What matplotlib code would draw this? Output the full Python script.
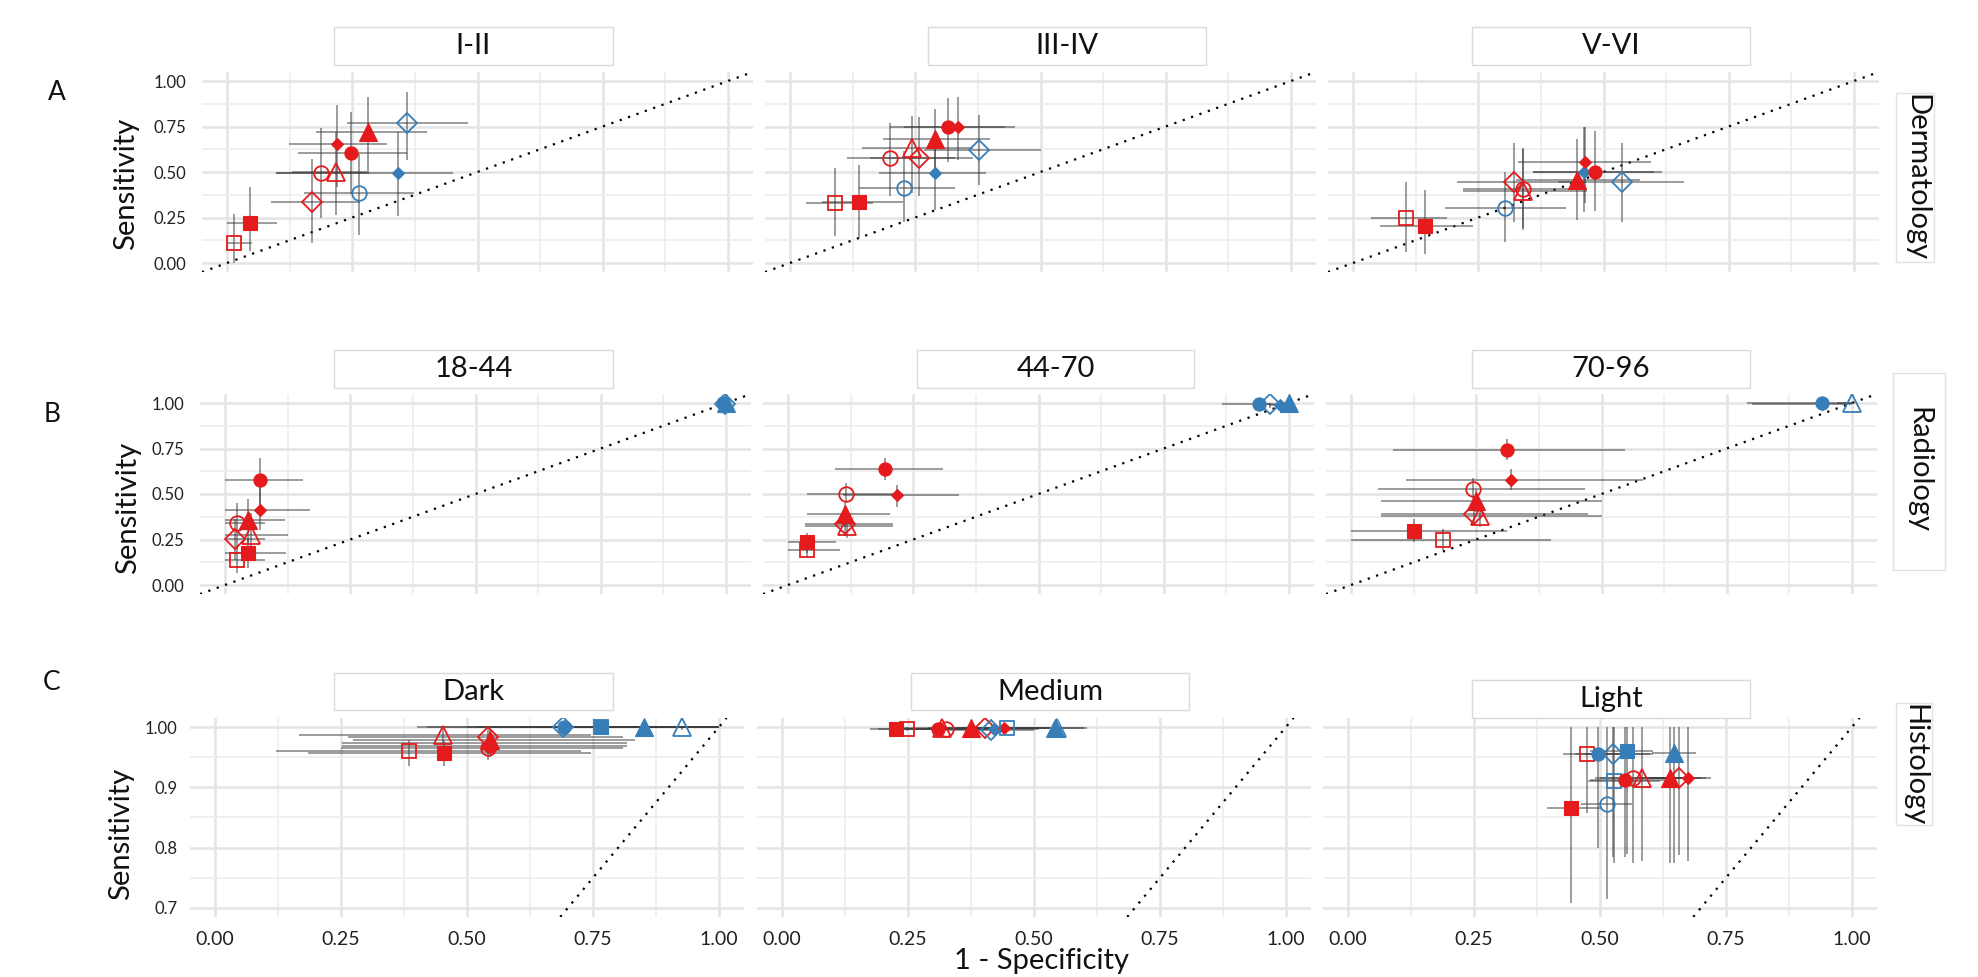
import matplotlib
matplotlib.use('Agg')
import matplotlib.pyplot as plt
from matplotlib.patches import Rectangle

W, H, DPI = 1978, 977, 100
RED, BLUE = '#E41A1C', '#377EB8'

# ---- data: (key, x, y, x_lo, x_hi, y_lo, y_hi); key = colour + shape + fill ----
derm_I_II = [
    ("rso", 0.013, 0.110, 0.000, 0.050, 0.000, 0.270),
    ("rsf", 0.046, 0.220, 0.000, 0.100, 0.064, 0.415),
    ("rdo", 0.170, 0.335, 0.087, 0.266, 0.110, 0.570),
    ("rco", 0.187, 0.494, 0.097, 0.280, 0.247, 0.740),
    ("rto", 0.217, 0.500, 0.130, 0.280, 0.265, 0.720),
    ("rdf", 0.219, 0.654, 0.124, 0.319, 0.420, 0.870),
    ("rcf", 0.247, 0.607, 0.142, 0.359, 0.380, 0.830),
    ("rtf", 0.281, 0.722, 0.177, 0.399, 0.490, 0.910),
    ("bco", 0.263, 0.384, 0.154, 0.374, 0.155, 0.600),
    ("bdf", 0.341, 0.497, 0.097, 0.452, 0.260, 0.720),
    ("bdo", 0.359, 0.771, 0.239, 0.482, 0.567, 0.940),
]
derm_III_IV = [
    ("rso", 0.090, 0.332, 0.031, 0.165, 0.150, 0.520),
    ("rsf", 0.138, 0.336, 0.064, 0.225, 0.135, 0.540),
    ("rco", 0.200, 0.578, 0.114, 0.330, 0.370, 0.770),
    ("rto", 0.244, 0.633, 0.143, 0.365, 0.387, 0.807),
    ("rdo", 0.257, 0.578, 0.160, 0.365, 0.370, 0.800),
    ("rtf", 0.289, 0.679, 0.186, 0.400, 0.500, 0.847),
    ("rcf", 0.316, 0.746, 0.200, 0.430, 0.555, 0.907),
    ("rdf", 0.336, 0.746, 0.228, 0.449, 0.565, 0.912),
    ("bco", 0.228, 0.410, 0.137, 0.330, 0.226, 0.615),
    ("bdf", 0.289, 0.496, 0.178, 0.392, 0.290, 0.715),
    ("bdo", 0.378, 0.620, 0.267, 0.500, 0.427, 0.815),
]
derm_V_VI = [
    ("rso", 0.106, 0.248, 0.035, 0.188, 0.060, 0.447),
    ("rsf", 0.143, 0.203, 0.054, 0.240, 0.047, 0.400),
    ("bco", 0.303, 0.300, 0.184, 0.425, 0.115, 0.500),
    ("rdo", 0.322, 0.447, 0.207, 0.466, 0.224, 0.662),
    ("rco", 0.340, 0.407, 0.220, 0.468, 0.190, 0.630),
    ("rto", 0.339, 0.398, 0.220, 0.468, 0.180, 0.626),
    ("rtf", 0.447, 0.456, 0.326, 0.573, 0.237, 0.680),
    ("bdf", 0.461, 0.498, 0.360, 0.600, 0.280, 0.745),
    ("rdf", 0.464, 0.553, 0.329, 0.595, 0.330, 0.748),
    ("rcf", 0.483, 0.498, 0.360, 0.617, 0.288, 0.726),
    ("bdo", 0.537, 0.447, 0.410, 0.660, 0.228, 0.662),
]
rad_18_44 = [
    ("rcf", 0.069, 0.577, 0.000, 0.155, 0.430, 0.696),
    ("rdf", 0.070, 0.413, 0.000, 0.169, 0.300, 0.540),
    ("rco", 0.023, 0.340, 0.000, 0.080, 0.200, 0.450),
    ("rtf", 0.045, 0.359, 0.000, 0.120, 0.230, 0.470),
    ("rto", 0.051, 0.277, 0.000, 0.125, 0.160, 0.395),
    ("rdo", 0.020, 0.253, 0.000, 0.080, 0.140, 0.360),
    ("rsf", 0.045, 0.177, 0.000, 0.122, 0.095, 0.260),
    ("rso", 0.023, 0.137, 0.000, 0.080, 0.067, 0.210),
    ("bcf", 0.995, 1.000, 0.985, 1.000, 0.990, 1.000),
    ("bdf", 0.996, 0.990, 0.985, 1.000, 0.980, 1.000),
    ("bdo", 0.998, 0.995, 0.990, 1.000, 0.985, 1.000),
    ("btf", 1.000, 0.998, 0.995, 1.000, 0.990, 1.000),
]
rad_44_70 = [
    ("rcf", 0.193, 0.636, 0.093, 0.309, 0.577, 0.696),
    ("rco", 0.116, 0.500, 0.037, 0.230, 0.450, 0.560),
    ("rdf", 0.217, 0.495, 0.110, 0.341, 0.430, 0.550),
    ("rtf", 0.114, 0.390, 0.037, 0.203, 0.320, 0.450),
    ("rdo", 0.114, 0.335, 0.034, 0.210, 0.270, 0.400),
    ("rto", 0.117, 0.322, 0.034, 0.210, 0.260, 0.385),
    ("rsf", 0.037, 0.235, 0.000, 0.095, 0.177, 0.287),
    ("rso", 0.038, 0.195, 0.000, 0.104, 0.150, 0.250),
    ("bcf", 0.941, 0.993, 0.867, 0.963, 0.985, 1.000),
    ("bdo", 0.962, 0.995, 0.930, 0.990, 0.975, 1.000),
    ("bdf", 0.982, 0.990, 0.960, 1.000, 0.975, 1.000),
    ("btf", 1.000, 1.000, 0.990, 1.000, 0.995, 1.000),
]
rad_70_96 = [
    ("rcf", 0.312, 0.741, 0.083, 0.546, 0.687, 0.800),
    ("rdf", 0.319, 0.577, 0.110, 0.582, 0.520, 0.640),
    ("rco", 0.243, 0.526, 0.054, 0.467, 0.470, 0.590),
    ("rtf", 0.250, 0.459, 0.059, 0.500, 0.400, 0.520),
    ("rdo", 0.245, 0.392, 0.059, 0.474, 0.330, 0.450),
    ("rto", 0.258, 0.380, 0.059, 0.500, 0.320, 0.440),
    ("rsf", 0.125, 0.295, 0.000, 0.312, 0.235, 0.360),
    ("rso", 0.184, 0.250, 0.000, 0.400, 0.190, 0.308),
    ("bcf", 0.941, 1.000, 0.790, 1.000, 0.990, 1.000),
    ("bdf", 0.941, 0.995, 0.800, 1.000, 0.985, 1.000),
    ("bto", 1.000, 1.000, 0.970, 1.000, 0.995, 1.000),
]
hist_dark = [
    ("rso", 0.385, 0.960, 0.121, 0.727, 0.935, 0.979),
    ("rsf", 0.454, 0.957, 0.185, 0.747, 0.935, 0.977),
    ("rto", 0.453, 0.986, 0.166, 0.747, 0.970, 1.000),
    ("rco", 0.542, 0.965, 0.250, 0.810, 0.946, 0.985),
    ("rcf", 0.545, 0.969, 0.252, 0.818, 0.950, 0.988),
    ("rdf", 0.545, 0.973, 0.252, 0.818, 0.955, 0.990),
    ("rtf", 0.545, 0.979, 0.274, 0.833, 0.960, 0.995),
    ("rdo", 0.542, 0.983, 0.264, 0.810, 0.965, 1.000),
    ("bdo", 0.690, 1.000, 0.400, 1.000, 0.995, 1.000),
    ("bcf", 0.693, 1.000, 0.420, 1.000, 0.995, 1.000),
    ("bso", 0.766, 1.000, 0.500, 1.000, 0.995, 1.000),
    ("bsf", 0.766, 1.000, 0.520, 1.000, 0.995, 1.000),
    ("btf", 0.851, 1.000, 0.600, 1.000, 0.995, 1.000),
    ("bto", 0.926, 1.000, 0.750, 1.000, 0.995, 1.000),
]
hist_medium = [
    ("rsf", 0.227, 0.997, 0.175, 0.300, 0.993, 1.000),
    ("rso", 0.249, 0.997, 0.190, 0.310, 0.993, 1.000),
    ("rcf", 0.310, 0.997, 0.230, 0.400, 0.993, 1.000),
    ("rto", 0.318, 0.999, 0.240, 0.400, 0.995, 1.000),
    ("rco", 0.326, 0.997, 0.250, 0.410, 0.993, 1.000),
    ("rtf", 0.375, 0.998, 0.290, 0.460, 0.995, 1.000),
    ("rdo", 0.403, 0.998, 0.310, 0.500, 0.995, 1.000),
    ("bdo", 0.415, 0.995, 0.330, 0.500, 0.990, 1.000),
    ("bdf", 0.420, 0.996, 0.340, 0.510, 0.992, 1.000),
    ("rdf", 0.441, 0.999, 0.350, 0.530, 0.995, 1.000),
    ("bso", 0.447, 0.998, 0.360, 0.530, 0.995, 1.000),
    ("btf", 0.542, 0.998, 0.450, 0.605, 0.995, 1.000),
    ("bto", 0.545, 0.999, 0.460, 0.600, 0.995, 1.000),
]
hist_light = [
    ("rso", 0.474, 0.956, 0.426, 0.605, 0.857, 1.000),
    ("bcf", 0.497, 0.956, 0.450, 0.560, 0.800, 1.000),
    ("bdo", 0.526, 0.956, 0.470, 0.600, 0.785, 1.000),
    ("bsf", 0.554, 0.960, 0.480, 0.605, 0.790, 1.000),
    ("btf", 0.646, 0.957, 0.603, 0.690, 0.775, 1.000),
    ("rsf", 0.443, 0.865, 0.395, 0.504, 0.708, 1.000),
    ("bco", 0.513, 0.872, 0.462, 0.564, 0.714, 1.000),
    ("bso", 0.528, 0.910, 0.477, 0.620, 0.775, 1.000),
    ("rcf", 0.549, 0.912, 0.480, 0.650, 0.785, 1.000),
    ("rco", 0.566, 0.915, 0.490, 0.660, 0.774, 1.000),
    ("rto", 0.583, 0.915, 0.500, 0.680, 0.777, 1.000),
    ("rtf", 0.639, 0.915, 0.570, 0.700, 0.774, 1.000),
    ("rdo", 0.656, 0.915, 0.590, 0.710, 0.788, 1.000),
    ("rdf", 0.674, 0.915, 0.600, 0.720, 0.777, 1.000),
]

row_titles = ["Dermatology", "Radiology", "Histology"]
row_letters = ["A", "B", "C"]
col_titles = [["I-II", "III-IV", "V-VI"], ["18-44", "44-70", "70-96"], ["Dark", "Medium", "Light"]]
panel_data = [[derm_I_II, derm_III_IV, derm_V_VI],
              [rad_18_44, rad_44_70, rad_70_96],
              [hist_dark, hist_medium, hist_light]]
xticks_major = [0.0, 0.25, 0.5, 0.75, 1.0]
xtick_labels = ["0.00", "0.25", "0.50", "0.75", "1.00"]
yticks_ab = [0.0, 0.25, 0.5, 0.75, 1.0]
ytick_labels_ab = ["0.00", "0.25", "0.50", "0.75", "1.00"]
yticks_c = [0.7, 0.8, 0.9, 1.0]
ytick_labels_c = ["0.7", "0.8", "0.9", "1.00"]

# ---- layout (pixels) ----
plt.rcParams['font.family'] = ['Lato', 'DejaVu Sans']
fig = plt.figure(figsize=(W / DPI, H / DPI), dpi=DPI)
fig.patch.set_facecolor('white')

def fx(x):
    return x / W

def fy(y):
    return 1 - y / H

rows = [
    dict(x0=[227, 790, 1353], ux=501, y_top_val=1.00, y_top_px=81, uy=182, ylim=(-0.05, 1.05)),
    dict(x0=[225, 788, 1351], ux=501, y_top_val=1.00, y_top_px=403, uy=182, ylim=(-0.05, 1.05)),
    dict(x0=[215, 782, 1348], ux=504, y_top_val=1.00, y_top_px=727, uy=603, ylim=(0.685, 1.015)),
]
strips = [
    [(334, 613, 27, 65), (928, 1206, 27, 65), (1472, 1750, 27, 65)],
    [(334, 613, 350, 388), (917, 1194, 350, 388), (1472, 1750, 350, 388)],
    [(334, 613, 673, 710), (911, 1189, 673, 710), (1472, 1750, 680, 718)],
]
right_lab = [(1916, 178, (1896, 1934, 93, 262)), (1918, 470, (1893, 1945, 373, 570)),
             (1914, 765, (1896, 1932, 703, 825))]
letter_pos = [(57, 93), (52, 415), (52, 683)]
ylab_pos = [(126, 184), (128, 508), (121, 834)]

styles = {
    'cf': dict(marker='o', ms=9.5, filled=True),
    'co': dict(marker='o', ms=10.5, filled=False),
    'sf': dict(marker='s', ms=9.5, filled=True),
    'so': dict(marker='s', ms=10.5, filled=False),
    'tf': dict(marker='^', ms=12.5, filled=True),
    'to': dict(marker='^', ms=13, filled=False),
    'df': dict(marker='D', ms=6.5, filled=True),
    'do': dict(marker='D', ms=10, filled=False),
}

for r, row in enumerate(rows):
    ylo_v, yhi_v = row['ylim']
    top_px = row['y_top_px'] - (yhi_v - row['y_top_val']) * row['uy']
    h_px = (yhi_v - ylo_v) * row['uy']
    for c in range(3):
        left_px = row['x0'][c] - 0.05 * row['ux']
        w_px = 1.1 * row['ux']
        ax = fig.add_axes([fx(left_px), fy(top_px + h_px), w_px / W, h_px / H])
        ax.set_xlim(-0.05, 1.05)
        ax.set_ylim(*row['ylim'])
        ax.set_xticks(xticks_major)
        ax.set_xticks([0.125, 0.375, 0.625, 0.875], minor=True)
        if r < 2:
            ax.set_yticks(yticks_ab)
            ax.set_yticks([0.125, 0.375, 0.625, 0.875], minor=True)
        else:
            ax.set_yticks(yticks_c)
            ax.set_yticks([0.75, 0.85, 0.95], minor=True)
        if c == 0:
            ax.set_yticklabels(ytick_labels_ab if r < 2 else ytick_labels_c)
        else:
            ax.set_yticklabels([])
        if r == 2:
            ax.set_xticklabels(xtick_labels)
        else:
            ax.set_xticklabels([])
        ax.tick_params(which='both', length=0)
        ax.tick_params(axis='y', labelsize=12, pad=11 if r < 2 else 9, labelcolor='#222222')
        ax.tick_params(axis='x', labelsize=14, pad=10, labelcolor='#222222')
        for s in ax.spines.values():
            s.set_visible(False)
        ax.grid(which='major', color='#E4E4E4', lw=1.8)
        ax.grid(which='minor', color='#EDEDED', lw=1.2)
        ax.set_axisbelow(True)
        ax.axline((0, 0), (1, 1), color='black', lw=1.6, ls=(0, (1, 3)), zorder=1)

        data = panel_data[r][c]
        for key, x, y, xl, xh, yl, yh in data:
            ax.errorbar([x], [y], xerr=[[x - xl], [xh - x]], yerr=[[y - yl], [yh - y]],
                        fmt='none', ecolor='#3a3a3a', alpha=0.5, elinewidth=1.4,
                        capsize=0, zorder=2)
        for key, x, y, xl, xh, yl, yh in data:
            col = RED if key[0] == 'r' else BLUE
            st = styles[key[1:]]
            ax.plot([x], [y], linestyle='none', marker=st['marker'], ms=st['ms'],
                    mfc=col if st['filled'] else 'none', mec=col,
                    mew=0.8 if st['filled'] else 1.3, zorder=3)

        # strip box
        x1, x2, y1, y2 = strips[r][c]
        fig.patches.append(Rectangle((fx(x1), fy(y2)), (x2 - x1) / W, (y2 - y1) / H,
                                     transform=fig.transFigure, facecolor='white',
                                     edgecolor='#DADADA', lw=1.0))
        fig.text(fx((x1 + x2) / 2), fy((y1 + y2) / 2), col_titles[r][c], ha='center',
                 va='center', fontsize=21, color='#111111')

    # row decorations
    tx, ty, (bx1, bx2, by1, by2) = right_lab[r]
    fig.patches.append(Rectangle((fx(bx1), fy(by2)), (bx2 - bx1) / W, (by2 - by1) / H,
                                 transform=fig.transFigure, facecolor='white',
                                 edgecolor='#E2E2E2', lw=1.0))
    fig.text(fx(tx), fy(ty), row_titles[r], rotation=-90, ha='center', va='center',
             fontsize=21, color='#111111')
    lx, ly = letter_pos[r]
    fig.text(fx(lx), fy(ly), row_letters[r], ha='center', va='center', fontsize=19,
             color='#111111')
    sx, sy = ylab_pos[r]
    fig.text(fx(sx), fy(sy), "Sensitivity", rotation=90, ha='center', va='center',
             fontsize=21, color='#111111')

fig.text(fx(1041), fy(948), "1 - Specificity", ha='center', va='top', fontsize=21,
         color='#111111')

fig.savefig('out.png', dpi=DPI, facecolor='white')
